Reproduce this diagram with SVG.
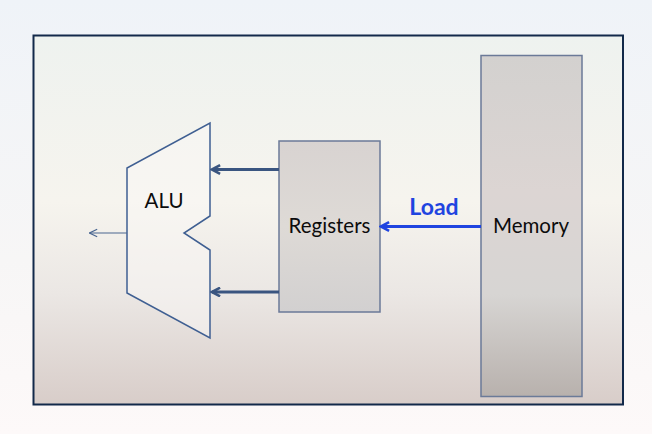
<svg xmlns="http://www.w3.org/2000/svg" width="652" height="434" viewBox="0 0 652 434">
<defs>
<linearGradient id="outer" x1="0" y1="0" x2="0" y2="1">
<stop offset="0" stop-color="#eff3f8"/>
<stop offset="0.6" stop-color="#f7f6f6"/>
<stop offset="1" stop-color="#fdf9f9"/>
</linearGradient>
<linearGradient id="inner" x1="0" y1="0" x2="0" y2="1">
<stop offset="0" stop-color="#eef2ef"/>
<stop offset="0.45" stop-color="#f6f4ee"/>
<stop offset="0.7" stop-color="#ebe7e4"/>
<stop offset="1" stop-color="#d8cdc9"/>
</linearGradient>
<linearGradient id="reg" x1="0" y1="0" x2="0" y2="1">
<stop offset="0" stop-color="#d8d3d1"/>
<stop offset="0.5" stop-color="#dedad6"/>
<stop offset="1" stop-color="#d2d0d0"/>
</linearGradient>
<linearGradient id="mem" x1="0" y1="0" x2="0" y2="1">
<stop offset="0" stop-color="#d3d1cf"/>
<stop offset="0.4" stop-color="#dcd5d3"/>
<stop offset="0.7" stop-color="#d7d5d3"/>
<stop offset="1" stop-color="#b8b1ad"/>
</linearGradient>
<marker id="ahThin" viewBox="0 0 10 10" refX="9" refY="5" markerWidth="8" markerHeight="8" orient="auto" markerUnits="strokeWidth">
<path d="M1,1 L9,5 L1,9" fill="none" stroke="#4a6690" stroke-width="1.2"/>
</marker>
<marker id="ahDark" viewBox="0 0 10 10" refX="8.5" refY="5" markerWidth="3.6" markerHeight="3.6" orient="auto" markerUnits="strokeWidth">
<path d="M1,1 L8.5,5 L1,9" fill="none" stroke="#3a5580" stroke-width="2.4"/>
</marker>
<marker id="ahBlue" viewBox="0 0 10 10" refX="8.5" refY="5" markerWidth="3.6" markerHeight="3.6" orient="auto" markerUnits="strokeWidth">
<path d="M1,1 L8.5,5 L1,9" fill="none" stroke="#1f44e0" stroke-width="2.4"/>
</marker>
</defs>
<style>
.lbl{font-family:Lato,"Open Sans","Liberation Sans",sans-serif;font-size:20.5px;fill:#0c0c0c}
.box{stroke:#6b7a98;stroke-width:1.5}
.dk{stroke:#3a5580;stroke-width:3;fill:none}
</style>
<rect x="0" y="0" width="652" height="434" fill="url(#outer)"/>
<rect id="frame" x="33.5" y="35.5" width="589.5" height="369" fill="url(#inner)" stroke="#12294a" stroke-width="2"/>
<g id="alu">
<polygon points="210,123 210,216 184,233 210,250 210,338 127,293 127,168" fill="#f9f8f5" fill-opacity="0.5" stroke="#3f5f92" stroke-width="1.5"/>
<text class="lbl" x="164" y="208" text-anchor="middle">ALU</text>
</g>
<g id="registers">
<rect class="box" x="279" y="141" width="101" height="171" fill="url(#reg)"/>
<text class="lbl" x="329.5" y="233" text-anchor="middle">Registers</text>
</g>
<g id="memory">
<rect class="box" x="481" y="55.5" width="101" height="341" fill="url(#mem)"/>
<text class="lbl" x="531" y="233" text-anchor="middle">Memory</text>
</g>
<g id="connectors">
<line x1="279" y1="169.5" x2="212" y2="169.5" class="dk" marker-end="url(#ahDark)"/>
<line x1="279" y1="292" x2="212" y2="292" class="dk" marker-end="url(#ahDark)"/>
<line x1="127" y1="233" x2="89.5" y2="233" stroke="#4a6690" stroke-width="1.2" marker-end="url(#ahThin)"/>
<line x1="481" y1="226.5" x2="381" y2="226.5" stroke="#1f44e0" stroke-width="3" marker-end="url(#ahBlue)"/>
<text x="434" y="214.5" text-anchor="middle" style="font-family:Lato,'Open Sans','Liberation Sans',sans-serif;font-size:23px;font-weight:bold;fill:#1f44e0">Load</text>
</g>
</svg>
